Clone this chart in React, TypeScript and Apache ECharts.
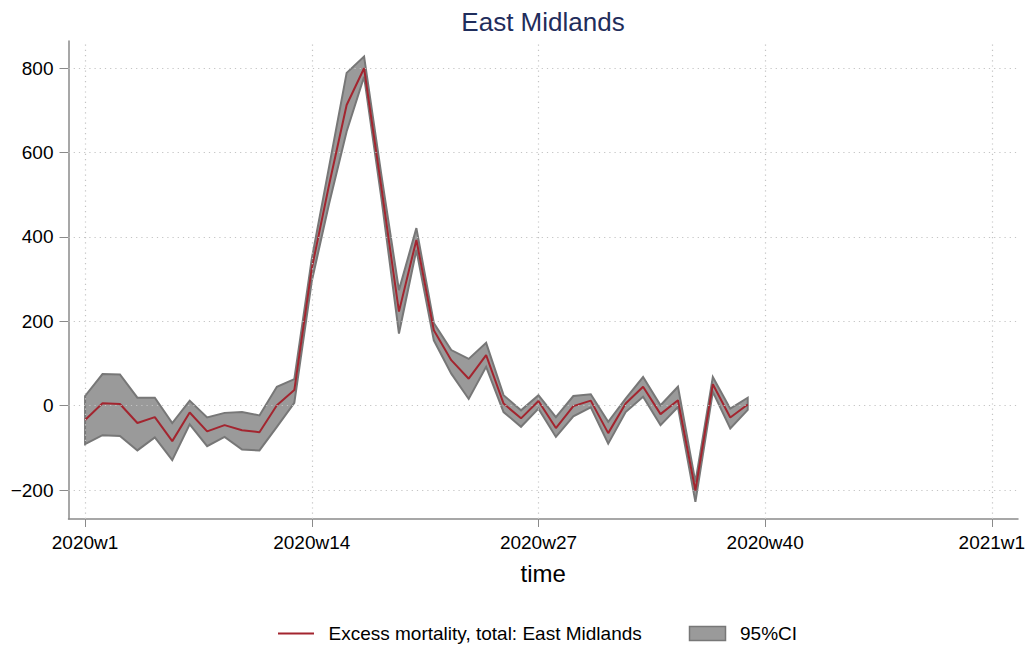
import React, { useEffect, useRef } from "react";
import * as echarts from "echarts";

// Week number of 2020 (Stata weekly dates: 52 weeks per year)
const weeks = [1, 2, 3, 4, 5, 6, 7, 8, 9, 10, 11, 12, 13, 14, 15, 16, 17, 18, 19, 20, 21, 22, 23, 24, 25, 26, 27, 28, 29, 30, 31, 32, 33, 34, 35, 36, 37, 38, 39];

const excess = [-34, 6, 4, -41, -27, -84, -16, -61, -46, -58, -63, 1, 37, 325, 525, 713, 800, 515, 223, 393, 179, 108, 64, 120, 5, -30, 11, -53, -1, 12, -65, 5, 45, -20, 13, -201, 51, -28, 3];

const ciUpper = [23, 75, 74, 19, 19, -41, 12, -28, -17, -15, -23, 45, 63, 348, 568, 789, 828, 545, 274, 421, 196, 132, 111, 149, 25, -11, 25, -27, 23, 27, -38, 17, 68, 1, 45, -181, 68, -7, 19];

const ciLower = [-91, -70, -72, -106, -75, -129, -44, -96, -74, -104, -106, -50, 7, 295, 480, 650, 780, 490, 171, 369, 155, 76, 16, 92, -15, -50, -7, -74, -25, -4, -90, -15, 21, -46, -3, -228, 33, -54, -10];

const xTickValues = [0, 13, 26, 39, 52];
const xTickLabels = ["2020w1", "2020w14", "2020w27", "2020w40", "2021w1"];
const yTickValues = [-200, 0, 200, 400, 600, 800];

const lineName = "Excess mortality, total: East Midlands";
const ciName = "95%CI";

const FONT = "'Liberation Sans', Arial, Helvetica, sans-serif";
const RED = "#a3252f";
const CI_FILL = "#9a9a9a";
const CI_EDGE = "#777777";
const GRID = "#c4c4c4";
const AXIS = "#8a8a8a";

export default function App() {
  const ref = useRef<HTMLDivElement>(null);

  useEffect(() => {
    if (!ref.current) return;
    const chart = echarts.init(ref.current, undefined, { renderer: "svg" });

    const xs = weeks.map((w) => w - 1);
    const lineData = xs.map((x, i) => [x, excess[i]]);
    const bandData = xs.map((x, i) => [x, ciLower[i], ciUpper[i]]);

    const gridLines: any[] = [
      ...xTickValues.map((v) => ({ xAxis: v })),
      ...yTickValues.map((v) => ({ yAxis: v })),
    ];

    const option: any = {
      animation: false,
      backgroundColor: "#ffffff",
      textStyle: { fontFamily: FONT },
      title: {
        text: "East Midlands",
        left: 538,
        top: 4,
        textAlign: "center",
        textStyle: {
          fontFamily: FONT,
          fontSize: 26,
          fontWeight: "normal",
          color: "#1f2d5c",
        },
      },
      grid: { left: 68.5, right: 16, top: 41, bottom: 127, containLabel: false },
      xAxis: {
        type: "value",
        min: -0.95,
        max: 53.5,
        name: "time",
        nameLocation: "middle",
        nameGap: 42,
        nameTextStyle: { fontFamily: FONT, fontSize: 24, color: "#000" },
        axisLine: { show: true, onZero: false, lineStyle: { color: AXIS, width: 1.5 } },
        axisTick: {
          show: true,
          customValues: xTickValues,
          length: 8,
          lineStyle: { color: AXIS, width: 1 },
        },
        axisLabel: {
          customValues: xTickValues,
          formatter: (v: number) => xTickLabels[xTickValues.indexOf(v)] ?? "",
          fontFamily: FONT,
          fontSize: 19,
          color: "#000",
          margin: 14,
        },
        splitLine: { show: false },
      },
      yAxis: {
        type: "value",
        min: -268.6,
        max: 864.6,
        axisLine: { show: true, onZero: false, lineStyle: { color: AXIS, width: 1.5 } },
        axisTick: {
          show: true,
          customValues: yTickValues,
          length: 9,
          lineStyle: { color: AXIS, width: 1 },
        },
        axisLabel: {
          customValues: yTickValues,
          formatter: (v: number) => (v < 0 ? "\u2212" + Math.abs(v) : String(v)),
          fontFamily: FONT,
          fontSize: 19,
          color: "#000",
          margin: 15,
        },
        splitLine: { show: false },
      },
      legend: {
        left: 277,
        top: 624,
        padding: 0,
        itemWidth: 36,
        itemHeight: 14,
        itemGap: 47,
        formatter: (name: string) => "\u2002" + name,
        textStyle: { fontFamily: FONT, fontSize: 19, color: "#000" },
        data: [
          {
            name: lineName,
            itemStyle: { opacity: 0, color: "rgba(0,0,0,0)", borderWidth: 0 },
          },
          {
            name: ciName,
            icon: "rect",
            itemStyle: { color: CI_FILL, borderColor: CI_EDGE, borderWidth: 1.5 },
          },
        ],
      },
      series: [
        {
          name: "grid",
          type: "line",
          data: [],
          silent: true,
          markLine: {
            silent: true,
            symbol: "none",
            label: { show: false },
            lineStyle: { color: GRID, type: [1.2, 4], width: 1.2 },
            data: gridLines,
          },
        },
        {
          name: ciName,
          type: "custom",
          itemStyle: { color: CI_FILL },
          data: bandData,
          encode: { x: 0, y: [1, 2] },
          clip: true,
          renderItem: (params: any, api: any) => {
            if (params.dataIndex !== 0) return null;
            const upperPts = bandData.map((d) => api.coord([d[0], d[2]]));
            const lowerPts = bandData
              .slice()
              .reverse()
              .map((d) => api.coord([d[0], d[1]]));
            return {
              type: "polygon",
              shape: { points: upperPts.concat(lowerPts) },
              style: {
                fill: CI_FILL,
                stroke: CI_EDGE,
                lineWidth: 2,
                lineJoin: "miter",
              },
            };
          },
          z: 2,
        },
        {
          name: lineName,
          type: "line",
          data: lineData,
          symbol: "none",
          lineStyle: { color: RED, width: 2 },
          itemStyle: { color: RED },
          z: 3,
        },
      ],
    };

    chart.setOption(option);
    return () => {
      chart.dispose();
    };
  }, []);

  return (
    <div
      ref={ref}
      style={{ position: "fixed", left: 0, top: 0, width: 1034, height: 646, background: "#fff" }}
    />
  );
}
